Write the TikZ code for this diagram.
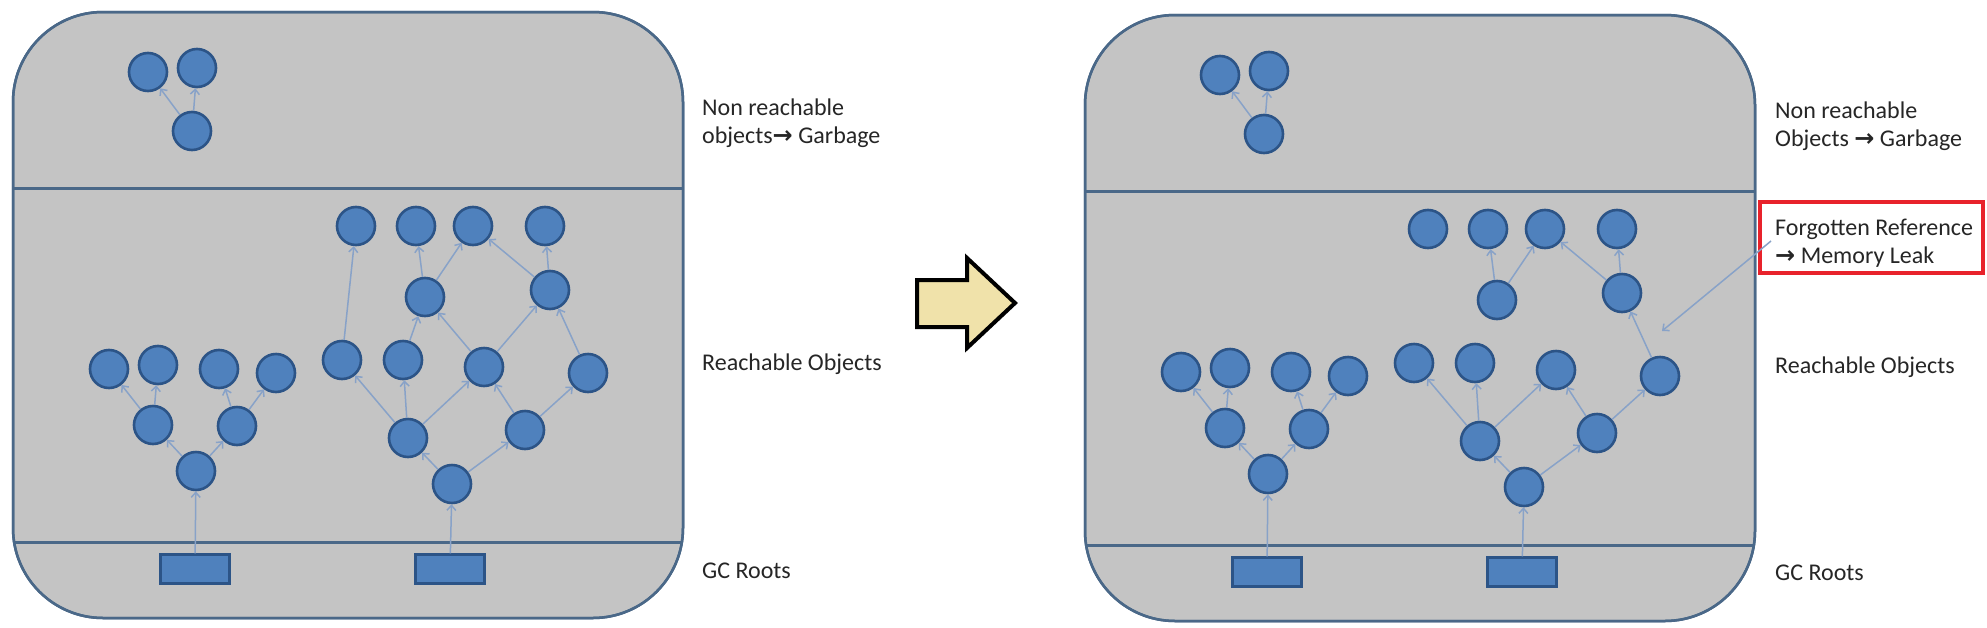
\documentclass[tikz,border=0pt]{standalone}
\usepackage{fontspec}
\setmainfont{Carlito}
\newfontfamily\symf{DejaVu Sans}
\usetikzlibrary{arrows.meta}
\definecolor{panelfill}{HTML}{C4C4C4}
\definecolor{panelline}{HTML}{4A6888}
\definecolor{objfill}{HTML}{4F81BD}
\definecolor{objline}{HTML}{2C5487}
\definecolor{refline}{HTML}{88A2C8}
\definecolor{txt}{HTML}{262626}
\definecolor{arrowfill}{HTML}{F0E2AA}
\definecolor{leakred}{HTML}{E8222B}
\tikzset{
  obj/.style={circle, fill=objfill, draw=objline, line width=2.6pt, minimum size=38pt, inner sep=0pt},
  rootbox/.style={rectangle, fill=objfill, draw=objline, line width=2.2pt, minimum width=69pt, minimum height=29pt, inner sep=0pt},
  ref/.style={draw=refline, line width=1.5pt, -{Straight Barb[length=5pt,width=9pt]}},
  lbl/.style={anchor=base west, inner sep=0pt, text=txt, font=\fontsize{24}{28}\selectfont},
  panel/.style={rounded corners=90pt, fill=panelfill, draw=panelline, line width=2.5pt},
  divider/.style={draw=panelline, line width=3pt},
}
\newcommand\gcpanel[1]{%
  \path[panel] (13,12) rectangle (683,618);
  \begin{scope}
    \clip[rounded corners=90pt] (13,12) rectangle (683,618);
    \path[divider] (0,188) -- (700,188);
    \path[divider] (0,542) -- (700,542);
  \end{scope}
  \path[draw=panelline, line width=2.5pt, rounded corners=90pt] (13,12) rectangle (683,618);
  % non reachable
  \node[obj] (#1t1) at (148,72) {};
  \node[obj] (#1t2) at (197,68) {};
  \node[obj] (#1t3) at (192,131) {};
  % left tree
  \node[obj] (#1l1) at (109,369) {};
  \node[obj] (#1l2) at (158,365) {};
  \node[obj] (#1l3) at (219,369) {};
  \node[obj] (#1l4) at (276,373) {};
  \node[obj] (#1m1) at (153,425) {};
  \node[obj] (#1m2) at (237,426) {};
  \node[obj] (#1r0) at (196,471) {};
  \node[rootbox] (#1g1) at (195,569) {};
  % right graph
  \node[obj] (#1a1) at (356,226) {};
  \node[obj] (#1a2) at (416,226) {};
  \node[obj] (#1a3) at (473,226) {};
  \node[obj] (#1a4) at (545,226) {};
  \node[obj] (#1G) at (425,297) {};
  \node[obj] (#1H) at (550,290) {};
  \node[obj] (#1C) at (342,360) {};
  \node[obj] (#1D) at (403,360) {};
  \node[obj] (#1E) at (484,367) {};
  \node[obj] (#1F) at (588,373) {};
  \node[obj] (#1A) at (408,438) {};
  \node[obj] (#1B) at (525,430) {};
  \node[obj] (#1R) at (452,484) {};
  \node[rootbox] (#1g2) at (450,569) {};
  \foreach \s/\e in {t3/t1,t3/t2,g1/r0,r0/m1,r0/m2,m1/l1,m1/l2,m2/l3,m2/l4,
                     g2/R,R/A,R/B,A/C,A/D,A/E,B/E,B/F,F/H,G/a2,G/a3,H/a3,H/a4}
    \draw[ref] (#1\s) -- (#1\e);
}
\begin{document}
\begin{tikzpicture}[x=1pt,y=-1pt]
  \useasboundingbox (0,0) rectangle (1987,627);
  \fill[white] (0,0) rectangle (1987,627);
  % left panel
  \gcpanel{L}
  \foreach \s/\e in {C/a1,D/G,E/G,E/H}
    \draw[ref] (L\s) -- (L\e);
  \node[lbl] (Ltxt1) at (702,115) {Non reachable};
  \node[lbl] (Ltxt2) at (702,143) {objects{\symf\bfseries →} Garbage};
  \node[lbl] (Ltxt3) at (702,370) {Reachable Objects};
  \node[lbl] (Ltxt4) at (702,578) {GC Roots};
  % big arrow
  \path[fill=arrowfill, draw=black, line width=4pt, line join=miter]
    (917,280) -- (967,280) -- (967,258) -- (1015,303) -- (967,348) -- (967,327) -- (917,327) -- cycle;
  % right panel
  \begin{scope}[shift={(1072,3)}]
    \gcpanel{R}
  \end{scope}
  \node[lbl] (Rtxt1) at (1775,118) {Non reachable};
  \node[lbl] (Rtxt2) at (1775,146) {Objects {\symf\bfseries →} Garbage};
  \node[lbl] (Rtxt5) at (1775,235) {Forgotten Reference};
  \node[lbl] (Rtxt6) at (1775,263) {{\symf\bfseries →} Memory Leak};
  \node[lbl] (Rtxt3) at (1775,373) {Reachable Objects};
  \node[lbl] (Rtxt4) at (1775,580) {GC Roots};
  \node[draw=leakred, line width=4pt, minimum width=223pt, minimum height=71pt, inner sep=0pt] (leakbox) at (1871.5,237.5) {};
  \coordinate (frstart) at (1771,241);
  \coordinate (frend) at (1662,331);
  \draw[ref] (frstart) -- (frend);
\end{tikzpicture}
\end{document}
